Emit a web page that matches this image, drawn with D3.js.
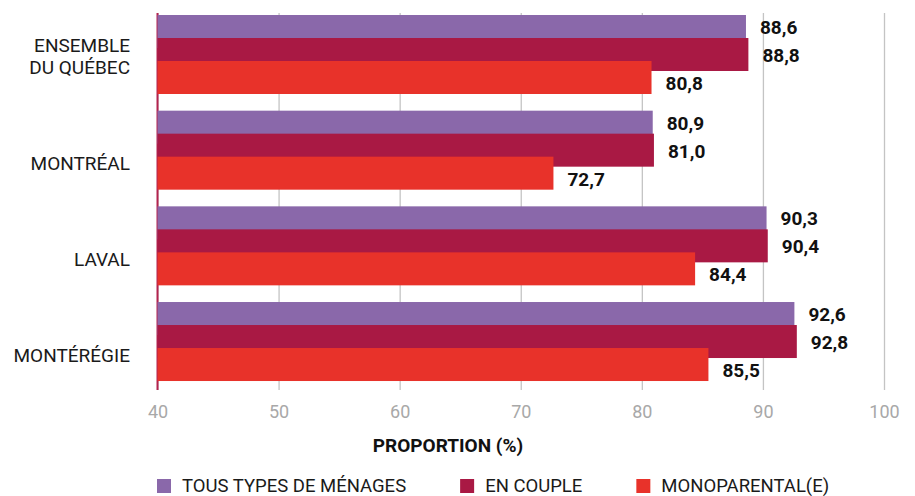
<!DOCTYPE html>
<html>
<head>
<meta charset="utf-8">
<script src="https://cdn.jsdelivr.net/npm/d3@7"></script>
<style>
  body { margin: 0; background: #fff; }
  svg { display: block; font-family: Roboto, "Noto Sans", sans-serif; }
</style>
</head>
<body>
<svg id="chart" width="915" height="496"></svg>
<script>
// ── Data ──
const regions = ["ENSEMBLE\nDU QUÉBEC", "MONTRÉAL", "LAVAL", "MONTÉRÉGIE"];
const series = ["TOUS TYPES DE MÉNAGES", "EN COUPLE", "MONOPARENTAL(E)"];
const tousTypes = [88.6, 80.9, 90.3, 92.6];
const enCouple = [88.8, 81.0, 90.4, 92.8];
const monoparental = [80.8, 72.7, 84.4, 85.5];
const xTicks = [40, 50, 60, 70, 80, 90, 100];

const colors = ["#8a68aa", "#a91944", "#e8322a"];
const values = [tousTypes, enCouple, monoparental];

const svg = d3.select("#chart");

// ── Scales ──
const x = d3.scaleLinear().domain([40, 100]).range([157.5, 884]);
const y0 = d3.scaleBand().domain(regions).range([15, 381]).paddingInner(0.1745).paddingOuter(0);
const y1 = d3.scaleBand().domain(series).range([0, 69]);   // bars overlap: each step 23px
const barH = y1.bandwidth() + 10;
const labelY = d3.scalePoint().domain(series).range([12, 68]);

// ── Grid + axis ──
const gridTop = 13, axisY = 390;
const xAxis = d3.axisBottom(x)
    .tickValues(xTicks)
    .tickFormat(d3.format("d"))
    .tickSize(-(axisY - gridTop))
    .tickPadding(15);

const gAxis = svg.append("g")
    .attr("transform", `translate(0,${axisY})`)
    .call(xAxis);
gAxis.select(".domain").remove();
gAxis.selectAll("line").attr("stroke", "#c4c4c4").attr("stroke-width", 1.3);
gAxis.selectAll("text")
    .attr("fill", "#a8a8a8")
    .style("font-size", "18px")
    .style("font-family", "Roboto, sans-serif");

// left axis line
svg.append("line")
    .attr("x1", x(40)).attr("x2", x(40))
    .attr("y1", gridTop).attr("y2", axisY)
    .attr("stroke", "#b3234f")
    .attr("stroke-width", 2);

// ── Bars ──
const rows = regions.map((r, i) => ({ region: r, vals: series.map((s, k) => ({ s, k, v: values[k][i] })) }));

const groups = svg.append("g").selectAll("g")
    .data(rows)
    .join("g")
    .attr("transform", d => `translate(0,${y0(d.region)})`);

groups.selectAll("rect")
    .data(d => d.vals)
    .join("rect")
    .attr("x", x(40))
    .attr("y", d => y1(d.s))
    .attr("width", d => x(d.v) - x(40))
    .attr("height", barH)
    .attr("fill", d => colors[d.k]);

groups.selectAll("text.val")
    .data(d => d.vals)
    .join("text")
    .attr("class", "val")
    .attr("x", d => x(d.v) + 14)
    .attr("y", d => labelY(d.s))
    .attr("dy", "0.36em")
    .style("font-size", "19px")
    .style("font-weight", "bold")
    .attr("fill", "#111")
    .text(d => d.v.toFixed(1).replace(".", ","));

// ── Category labels ──
groups.each(function (d) {
    const lines = d.region.split("\n");
    const base = y0.bandwidth() / 2 + 20;
    const t = d3.select(this).append("text")
        .attr("text-anchor", "end")
        .style("font-size", "19px")
        .attr("fill", "#1a1a1a");
    lines.forEach((ln, j) => {
        t.append("tspan")
            .attr("x", 130)
            .attr("y", base - (lines.length - 1 - j) * 22)
            .text(ln);
    });
});

// ── Axis title ──
svg.append("text")
    .attr("x", 448)
    .attr("y", 452)
    .attr("text-anchor", "middle")
    .style("font-size", "19px")
    .style("font-weight", "bold")
    .attr("fill", "#111")
    .text("PROPORTION (%)");

// ── Legend ──
let lx = 157;
series.forEach((s, k) => {
    svg.append("rect")
        .attr("x", lx).attr("y", 479)
        .attr("width", 14).attr("height", 14)
        .attr("fill", colors[k]);
    const t = svg.append("text")
        .attr("x", lx + 25)
        .attr("y", 492)
        .style("font-size", "18.5px")
        .attr("fill", "#1a1a1a")
        .text(s);
    lx += 25 + t.node().getComputedTextLength() + 54;
});
</script>
</body>
</html>
